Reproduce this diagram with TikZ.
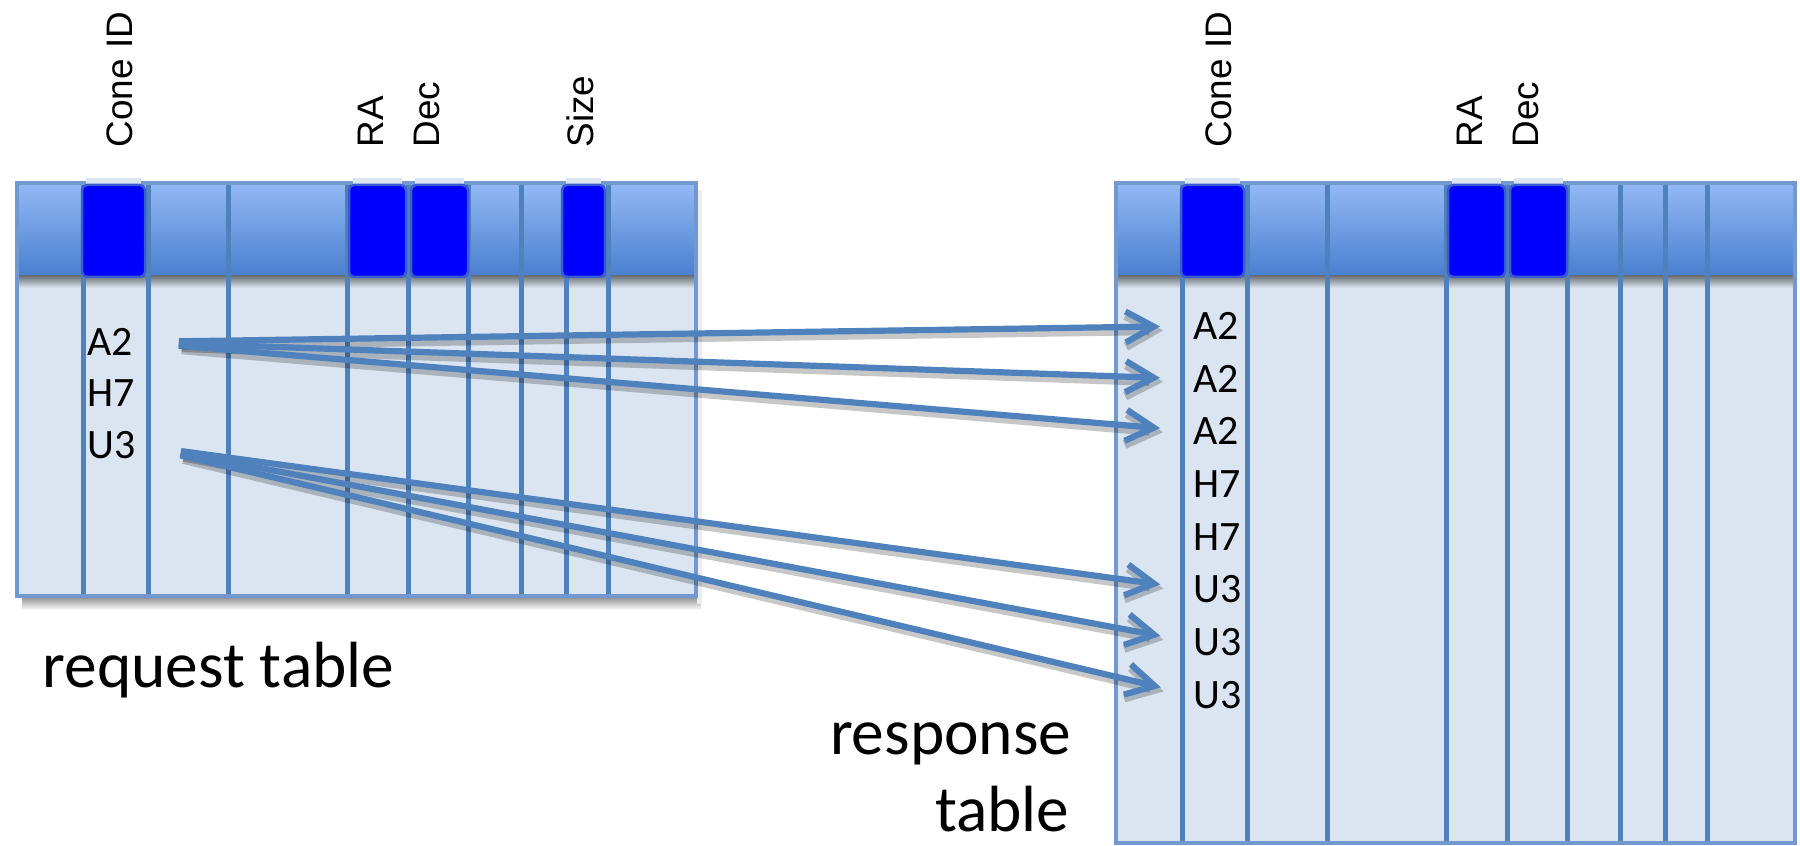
\documentclass[tikz,border=0pt]{standalone}
\usepackage{fontspec}
\setmainfont{Carlito}
\newfontfamily\labfont{Liberation Sans}
\usetikzlibrary{arrows.meta,calc}
\definecolor{bodyc}{HTML}{DBE5F1}
\definecolor{linec}{HTML}{4F81BD}
\definecolor{borderc}{HTML}{7299CF}
\definecolor{hdtop}{HTML}{93B9F5}
\definecolor{hdbot}{HTML}{4A7FCF}
\definecolor{hilite}{HTML}{0000FF}
\definecolor{hiborder}{HTML}{3A5BD0}
\newcommand{\drawtbl}[1]{%
  \fill[bodyc] (17,276) rectangle (696,#1);
  \shade[top color=hdtop,bottom color=hdbot] (17,183) rectangle (696,276);
  \shade[top color=black!50!bodyc,bottom color=bodyc] (17,276) rectangle (696,288);
  \foreach \cx in {83,148,228,347,408,468,521,566,608}
    \draw[colline] (\cx,183) -- (\cx,#1);
  \draw[borderline] (17,183) rectangle (696,#1);
}
\newcommand{\hcell}[2]{%
  \fill[bodyc] (#1+4,178) rectangle (#2-4,184);
  \draw[hicell] (#1,185) rectangle (#2,277);
}
\begin{document}
\begin{tikzpicture}[x=0.1mm,y=-0.1mm,
  colline/.style={draw=linec,line width=0.5mm},
  borderline/.style={draw=borderc,line width=0.45mm},
  hicell/.style={fill=hilite,draw=hiborder,line width=0.25mm,rounded corners=0.5mm},
  lab/.style={font=\labfont\fontsize{10.5}{12}\selectfont,rotate=90,anchor=west,inner sep=0pt},
  cell/.style={font=\fontsize{11.9}{13}\selectfont,anchor=west,inner sep=0pt},
  title/.style={font=\fontsize{18.6}{22}\selectfont,inner sep=0pt},
  arr/.style={draw=linec,line width=0.62mm,
    -{Straight Barb[length=2.8mm,width=3.1mm]},
    shorten <=4.5mm, shorten >=3.3mm,
    preaction={draw=black,opacity=0.22,line width=0.9mm,
      -{Straight Barb[length=2.8mm,width=3.1mm]},
      shorten <=4.5mm, shorten >=3.3mm,
      transform canvas={shift={(0.3mm,-0.4mm)}}}}]
\useasboundingbox (0,0) rectangle (1800,846);

% shadows of left table
\shade[top color=black!40,bottom color=white] (22,598) rectangle (701,610);
\fill[black!7] (697,190) rectangle (702,604);

% left table
\drawtbl{596}
\hcell{82}{145}
\hcell{349}{406}
\hcell{411}{468}
\hcell{562}{605}

% right table
\begin{scope}[shift={(1099,0)}]
\drawtbl{843}
\hcell{82}{145}
\hcell{349}{406}
\hcell{411}{468}
\end{scope}

% column labels
\node[lab] (lcone) at (120,148) {Cone ID};
\node[lab] (lra) at (371,148) {RA};
\node[lab] (ldec) at (427,148) {Dec};
\node[lab] (lsize) at (580,148) {Size};
\node[lab] (rcone) at (1219,148) {Cone ID};
\node[lab] (rra) at (1470,148) {RA};
\node[lab] (rdec) at (1526,148) {Dec};

% left table entries
\node[cell] (la2) at (87,342) {A2};
\node[cell] (lh7) at (87,393) {H7};
\node[cell] (lu3) at (87,445) {U3};

% right table entries
\node[cell] (r1) at (1193,326) {A2};
\node[cell] (r2) at (1193,379) {A2};
\node[cell] (r3) at (1193,431) {A2};
\node[cell] (r4) at (1193,484) {H7};
\node[cell] (r5) at (1193,537) {H7};
\node[cell] (r6) at (1193,589) {U3};
\node[cell] (r7) at (1193,642) {U3};
\node[cell] (r8) at (1193,695) {U3};

% titles
\node[title,anchor=base west] (treq) at (42,688) {request table};
\node[title,anchor=base east] (tres1) at (1072,755) {response};
\node[title,anchor=base east] (tres2) at (1070,832) {table};

% arrows
\draw[arr] (la2.east) -- (r1.west);
\draw[arr] (la2.east) -- (r2.west);
\draw[arr] (la2.east) -- (r3.west);
\draw[arr] (lu3.east) -- (r6.west);
\draw[arr] (lu3.east) -- (r7.west);
\draw[arr] (lu3.east) -- (r8.west);
\end{tikzpicture}
\end{document}
